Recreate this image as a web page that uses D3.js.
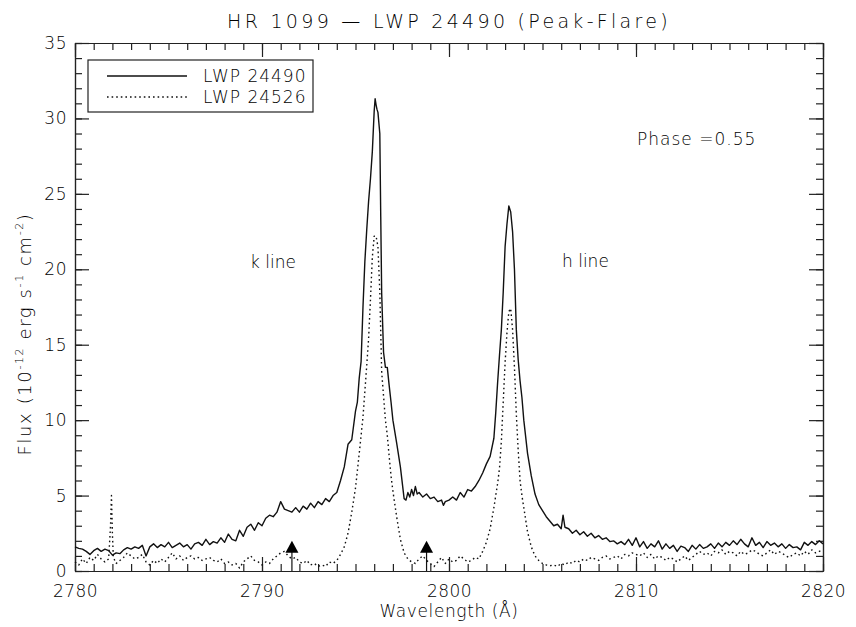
<!DOCTYPE html>
<html lang="en">
<head>
  <meta charset="UTF-8" />
  <title>HR 1099 - LWP 24490</title>
  <style>
    body { margin: 0; background: #fff; }
    svg text {
      font-family: "DejaVu Sans", sans-serif;
      font-weight: 200;
      fill: #000;
    }
    .axis path, .axis line { stroke: #222; stroke-width: 1.2px; }
    .axis text { font-size: 17px; letter-spacing: 0.5px; }
    .spec { fill: none; stroke: #111; stroke-width: 1.4px; stroke-linejoin: round; }
    .dotted { stroke-dasharray: 1.6,3; }
  </style>
  <script src="https://d3js.org/d3.v7.min.js"></script>
</head>
<body>
  <div id="chart"></div>
  <script type="text/javascript">
    // LWP 24490 (flare spectrum), [wavelength A, flux 1e-12]
    const lwp24490 = [
      [2780.0,1.6],[2780.2,1.5],[2780.4,1.45],[2780.6,1.3],[2780.8,1.1],[2781.0,1.35],[2781.2,1.5],[2781.4,1.3],
      [2781.6,1.45],[2781.8,1.35],[2782.0,1.05],[2782.2,1.2],[2782.4,1.15],[2782.6,1.4],[2782.8,1.55],[2783.0,1.45],
      [2783.2,1.6],[2783.4,1.5],[2783.6,1.7],[2783.8,1.0],[2784.0,1.6],[2784.2,1.8],[2784.4,1.55],[2784.6,1.75],
      [2784.8,1.6],[2785.0,1.9],[2785.2,1.55],[2785.4,1.7],[2785.6,1.85],[2785.8,1.6],[2786.0,1.75],[2786.2,1.45],
      [2786.4,1.8],[2786.6,1.9],[2786.8,1.7],[2787.0,2.1],[2787.2,1.75],[2787.4,1.95],[2787.6,1.85],[2787.8,2.2],
      [2788.0,1.9],[2788.2,2.45],[2788.4,2.1],[2788.6,2.0],[2788.8,2.7],[2789.0,2.3],[2789.2,2.9],[2789.4,3.1],
      [2789.6,2.7],[2789.8,3.2],[2790.0,3.0],[2790.2,3.5],[2790.4,3.7],[2790.6,3.6],[2790.8,3.9],[2791.0,4.6],
      [2791.2,4.1],[2791.4,4.0],[2791.6,3.9],[2791.8,4.2],[2792.0,3.9],[2792.2,4.3],[2792.4,4.1],[2792.6,4.5],
      [2792.8,4.2],[2793.0,4.6],[2793.2,4.4],[2793.4,4.8],[2793.6,4.6],[2793.8,5.0],[2794.0,5.2],[2794.2,6.0],
      [2794.4,6.9],[2794.6,8.4],[2794.8,8.7],[2795.0,10.6],[2795.1,11.2],[2795.2,12.8],[2795.3,13.9],[2795.4,17.5],
      [2795.5,20.5],[2795.6,22.6],[2795.7,24.5],[2795.8,26.0],[2795.9,27.8],[2796.0,30.5],[2796.05,31.3],[2796.1,30.9],
      [2796.15,30.6],[2796.2,30.4],[2796.3,29.0],[2796.35,23.5],[2796.4,18.4],[2796.5,14.5],[2796.6,13.5],[2796.7,13.5],
      [2796.8,12.3],[2796.9,11.2],[2797.0,10.0],[2797.2,8.5],[2797.4,6.9],[2797.6,4.8],[2797.7,4.7],[2797.8,5.2],
      [2797.9,4.9],[2798.0,5.4],[2798.1,5.0],[2798.2,5.6],[2798.3,5.1],[2798.4,5.2],[2798.6,4.9],[2798.8,5.1],
      [2799.0,4.8],[2799.2,4.9],[2799.4,4.6],[2799.6,4.7],[2799.7,4.35],[2799.8,4.6],[2800.0,4.7],[2800.2,4.9],
      [2800.4,4.7],[2800.6,5.2],[2800.8,4.9],[2801.0,5.4],[2801.2,5.3],[2801.4,5.6],[2801.6,6.0],[2801.8,6.5],
      [2802.0,7.1],[2802.2,7.6],[2802.4,8.8],[2802.5,10.5],[2802.6,12.5],[2802.7,14.3],[2802.8,16.0],[2802.9,18.5],
      [2803.0,21.5],[2803.1,23.0],[2803.2,24.2],[2803.3,23.8],[2803.4,22.5],[2803.5,20.0],[2803.6,16.0],[2803.7,14.0],
      [2803.8,12.6],[2803.9,11.5],[2804.0,10.0],[2804.2,7.8],[2804.4,6.3],[2804.6,5.1],[2804.8,4.4],[2805.0,4.0],
      [2805.2,3.6],[2805.4,3.3],[2805.6,3.0],[2805.8,3.1],[2806.0,2.8],[2806.1,3.7],[2806.2,2.9],[2806.4,2.8],
      [2806.6,2.5],[2806.8,2.7],[2807.0,2.4],[2807.2,2.6],[2807.4,2.3],[2807.6,2.5],[2807.8,2.2],[2808.0,2.35],
      [2808.2,2.1],[2808.4,2.2],[2808.6,1.95],[2808.8,2.0],[2809.0,1.8],[2809.2,1.95],[2809.4,1.75],[2809.6,2.1],
      [2809.8,1.7],[2810.0,2.2],[2810.2,1.6],[2810.4,1.95],[2810.6,1.5],[2810.8,1.8],[2811.0,1.6],[2811.2,2.0],
      [2811.4,1.45],[2811.6,1.8],[2811.8,1.5],[2812.0,1.7],[2812.2,1.3],[2812.4,1.65],[2812.6,1.55],[2812.8,1.3],
      [2813.0,1.7],[2813.2,1.45],[2813.4,1.75],[2813.6,1.5],[2813.8,1.6],[2814.0,1.8],[2814.2,1.5],[2814.4,1.85],
      [2814.6,1.6],[2814.8,1.9],[2815.0,1.7],[2815.2,2.0],[2815.4,1.75],[2815.6,2.1],[2815.8,1.8],[2816.0,1.6],
      [2816.2,2.2],[2816.4,1.7],[2816.6,1.9],[2816.8,1.55],[2817.0,1.95],[2817.2,1.7],[2817.4,1.85],[2817.6,1.6],
      [2817.8,1.8],[2818.0,1.5],[2818.2,1.75],[2818.4,1.55],[2818.6,1.6],[2818.8,1.4],[2819.0,1.9],[2819.2,1.7],
      [2819.4,1.95],[2819.6,1.75],[2819.8,2.0],[2820.0,1.8]
    ];

    // LWP 24526 (quiescent comparison)
    const lwp24526 = [
      [2780.0,0.6],[2780.2,0.4],[2780.4,0.8],[2780.6,0.5],[2780.8,0.9],[2781.0,0.7],[2781.2,1.1],[2781.4,0.8],
      [2781.6,0.6],[2781.8,0.8],[2781.9,3.0],[2781.95,5.0],[2782.0,2.5],[2782.05,0.9],[2782.2,0.5],[2782.4,0.7],
      [2782.6,0.9],[2782.8,1.2],[2783.0,1.0],[2783.2,0.8],[2783.4,0.9],[2783.6,1.1],[2783.8,0.6],[2784.0,0.4],
      [2784.2,0.7],[2784.4,0.5],[2784.6,0.8],[2784.8,0.6],[2785.0,0.9],[2785.2,1.2],[2785.4,0.8],[2785.6,1.0],
      [2785.8,0.7],[2786.0,0.9],[2786.2,1.0],[2786.4,0.8],[2786.6,0.9],[2786.8,0.7],[2787.0,0.8],[2787.2,0.9],
      [2787.4,0.7],[2787.6,0.6],[2787.8,0.8],[2788.0,0.5],[2788.2,0.6],[2788.4,0.4],[2788.6,0.5],[2788.8,0.2],
      [2789.0,0.6],[2789.2,0.8],[2789.4,1.0],[2789.6,0.7],[2789.8,0.6],[2790.0,0.4],[2790.2,0.6],[2790.4,0.5],
      [2790.6,0.8],[2790.8,1.0],[2791.0,1.2],[2791.2,1.3],[2791.4,1.0],[2791.6,0.8],[2791.8,0.9],[2792.0,0.6],
      [2792.2,0.5],[2792.4,0.7],[2792.6,0.4],[2792.8,0.5],[2793.0,0.3],[2793.2,0.4],[2793.4,0.3],[2793.6,0.6],
      [2793.8,0.5],[2794.0,0.7],[2794.2,1.1],[2794.4,1.6],[2794.6,2.5],[2794.8,3.9],[2795.0,5.5],[2795.2,7.8],
      [2795.4,10.2],[2795.6,13.6],[2795.7,15.4],[2795.8,18.0],[2795.9,20.8],[2796.0,22.2],[2796.1,22.2],[2796.2,21.5],
      [2796.3,18.5],[2796.4,13.2],[2796.5,11.6],[2796.6,10.0],[2796.7,9.0],[2796.8,7.6],[2796.9,6.3],[2797.0,5.3],
      [2797.2,3.6],[2797.4,2.1],[2797.6,1.2],[2797.8,0.8],[2798.0,0.6],[2798.2,0.5],[2798.4,0.8],[2798.6,1.0],
      [2798.8,0.7],[2799.0,0.5],[2799.2,0.3],[2799.4,0.6],[2799.6,0.9],[2799.8,0.5],[2800.0,0.8],[2800.2,0.6],
      [2800.4,0.7],[2800.6,1.0],[2800.8,0.8],[2801.0,0.6],[2801.2,0.7],[2801.4,0.9],[2801.6,0.8],[2801.8,1.3],
      [2802.0,1.9],[2802.2,2.8],[2802.4,4.2],[2802.6,5.8],[2802.7,6.8],[2802.8,8.6],[2802.9,11.2],[2803.0,13.8],
      [2803.1,15.8],[2803.2,17.2],[2803.3,17.4],[2803.4,16.0],[2803.5,13.5],[2803.6,10.4],[2803.7,8.0],[2803.8,6.0],
      [2803.9,5.0],[2804.0,4.2],[2804.2,2.6],[2804.4,1.6],[2804.6,1.0],[2804.8,0.7],[2805.0,0.5],[2805.2,0.4],
      [2805.4,0.35],[2805.6,0.4],[2805.8,0.3],[2806.0,0.5],[2806.2,0.4],[2806.4,0.6],[2806.6,0.5],[2806.8,0.7],
      [2807.0,0.6],[2807.2,0.8],[2807.4,0.7],[2807.6,0.9],[2807.8,0.8],[2808.0,0.7],[2808.2,0.9],[2808.4,1.0],
      [2808.6,0.8],[2808.8,0.9],[2809.0,1.0],[2809.2,0.8],[2809.4,1.1],[2809.6,1.0],[2809.8,1.2],[2810.0,1.1],
      [2810.2,1.0],[2810.4,1.2],[2810.6,0.9],[2810.8,1.1],[2811.0,0.8],[2811.2,1.0],[2811.4,0.9],[2811.6,0.7],
      [2811.8,0.9],[2812.0,0.8],[2812.2,0.6],[2812.4,0.8],[2812.6,1.0],[2812.8,0.7],[2813.0,0.9],[2813.2,1.1],
      [2813.4,1.3],[2813.6,1.1],[2813.8,1.2],[2814.0,1.0],[2814.2,1.3],[2814.4,1.2],[2814.6,1.4],[2814.8,1.1],
      [2815.0,1.3],[2815.2,1.2],[2815.4,1.0],[2815.6,1.3],[2815.8,1.1],[2816.0,1.2],[2816.2,1.4],[2816.4,1.3],
      [2816.6,1.1],[2816.8,1.0],[2817.0,1.2],[2817.2,1.4],[2817.4,1.1],[2817.6,1.3],[2817.8,1.2],[2818.0,1.0],
      [2818.2,0.9],[2818.4,1.1],[2818.6,1.2],[2818.8,1.0],[2819.0,1.3],[2819.2,1.1],[2819.4,1.4],[2819.6,1.2],
      [2819.8,1.3],[2820.0,1.4]
    ];

    const xTicks = [2780, 2790, 2800, 2810, 2820];
    const yTicks = [0, 5, 10, 15, 20, 25, 30, 35];
    const markerWl = [2791.6, 2798.8];
    const markerFlux = 2.0;
    const legendLabels = ["LWP 24490", "LWP 24526"];

    const W = 856, H = 627;
    const margin = { top: 43, right: 33, bottom: 56, left: 75 };

    const svg = d3.select("#chart").append("svg")
      .attr("width", W)
      .attr("height", H);

    const x = d3.scaleLinear().domain([2780, 2820]).range([margin.left, W - margin.right]);
    const y = d3.scaleLinear().domain([0, 35]).range([H - margin.bottom, margin.top]);

    const xMinor = d3.range(2780, 2821, 1);
    const yMinor = d3.range(0, 36, 1);

    // minor ticks on all four sides
    svg.append("g").attr("class", "axis")
      .attr("transform", `translate(0,${y(0)})`)
      .call(d3.axisBottom(x).tickValues(xMinor).tickSize(-7).tickSizeOuter(0).tickFormat(""));
    svg.append("g").attr("class", "axis")
      .attr("transform", `translate(0,${y(35)})`)
      .call(d3.axisTop(x).tickValues(xMinor).tickSize(-7).tickSizeOuter(0).tickFormat(""));
    svg.append("g").attr("class", "axis")
      .attr("transform", `translate(${x(2780)},0)`)
      .call(d3.axisLeft(y).tickValues(yMinor).tickSize(-7).tickSizeOuter(0).tickFormat(""));
    svg.append("g").attr("class", "axis")
      .attr("transform", `translate(${x(2820)},0)`)
      .call(d3.axisRight(y).tickValues(yMinor).tickSize(-7).tickSizeOuter(0).tickFormat(""));

    // major ticks
    svg.append("g").attr("class", "axis")
      .attr("transform", `translate(0,${y(0)})`)
      .call(d3.axisBottom(x).tickValues(xTicks).tickSize(-14).tickSizeOuter(0).tickPadding(14).tickFormat(d3.format("d")));
    svg.append("g").attr("class", "axis")
      .attr("transform", `translate(0,${y(35)})`)
      .call(d3.axisTop(x).tickValues(xTicks).tickSize(-14).tickSizeOuter(0).tickFormat(""));
    svg.append("g").attr("class", "axis")
      .attr("transform", `translate(${x(2780)},0)`)
      .call(d3.axisLeft(y).tickValues(yTicks).tickSize(-14).tickSizeOuter(0).tickPadding(8).tickFormat(d3.format("d")));
    svg.append("g").attr("class", "axis")
      .attr("transform", `translate(${x(2820)},0)`)
      .call(d3.axisRight(y).tickValues(yTicks).tickSize(-14).tickSizeOuter(0).tickFormat(""));

    svg.selectAll(".axis text").attr("fill", "#000");

    // spectra
    const line = d3.line().x(d => x(d[0])).y(d => y(d[1]));
    svg.append("path").datum(lwp24526).attr("class", "spec dotted").attr("d", line);
    svg.append("path").datum(lwp24490).attr("class", "spec").attr("d", line);

    // markers
    markerWl.forEach(w => {
      const px = x(w), py = y(markerFlux);
      svg.append("line")
        .attr("x1", px).attr("x2", px)
        .attr("y1", py + 10).attr("y2", y(0))
        .attr("stroke", "#111").attr("stroke-width", 1.2);
      svg.append("path")
        .attr("d", `M${px},${py} L${px - 6.5},${py + 12} L${px + 6.5},${py + 12} Z`)
        .attr("fill", "#000");
    });

    // title
    svg.append("text")
      .attr("x", 449).attr("y", 28)
      .attr("text-anchor", "middle")
      .style("font-size", "19px")
      .style("letter-spacing", "3.3px")
      .text("HR 1099 \u2014 LWP 24490 (Peak-Flare)");

    // x label
    svg.append("text")
      .attr("x", 449).attr("y", 617)
      .attr("text-anchor", "middle")
      .style("font-size", "17px")
      .style("letter-spacing", "0.6px")
      .text("Wavelength (\u00c5)");

    // y label
    const yl = svg.append("text")
      .attr("transform", "translate(31,334) rotate(-90)")
      .attr("text-anchor", "middle")
      .style("font-size", "18px")
      .style("letter-spacing", "1.6px");
    yl.append("tspan").text("Flux (10");
    yl.append("tspan").attr("dy", -8).style("font-size", "11px").text("-12");
    yl.append("tspan").attr("dy", 8).text(" erg s");
    yl.append("tspan").attr("dy", -8).style("font-size", "11px").text("-1");
    yl.append("tspan").attr("dy", 8).text(" cm");
    yl.append("tspan").attr("dy", -8).style("font-size", "11px").text("-2");
    yl.append("tspan").attr("dy", 8).text(")");

    // annotations
    svg.append("text").attr("x", 637).attr("y", 145)
      .style("font-size", "17px").style("letter-spacing", "1px").text("Phase =0.55");
    svg.append("text").attr("x", 250).attr("y", 268).style("font-size", "17px").text("k  line");
    svg.append("text").attr("x", 562).attr("y", 267).style("font-size", "17px").text("h  line");

    // legend
    const lg = svg.append("g");
    lg.append("rect")
      .attr("x", 88).attr("y", 60).attr("width", 225).attr("height", 52)
      .attr("fill", "#fff").attr("stroke", "#222").attr("stroke-width", 1.2);
    legendLabels.forEach((lab, i) => {
      const ly = 76 + i * 21;
      lg.append("line")
        .attr("x1", 107).attr("x2", 187).attr("y1", ly).attr("y2", ly)
        .attr("class", i === 0 ? "spec" : "spec dotted");
      lg.append("text")
        .attr("x", 203).attr("y", ly + 6)
        .style("font-size", "17px")
        .style("letter-spacing", "1px")
        .text(lab);
    });
  </script>
</body>
</html>
